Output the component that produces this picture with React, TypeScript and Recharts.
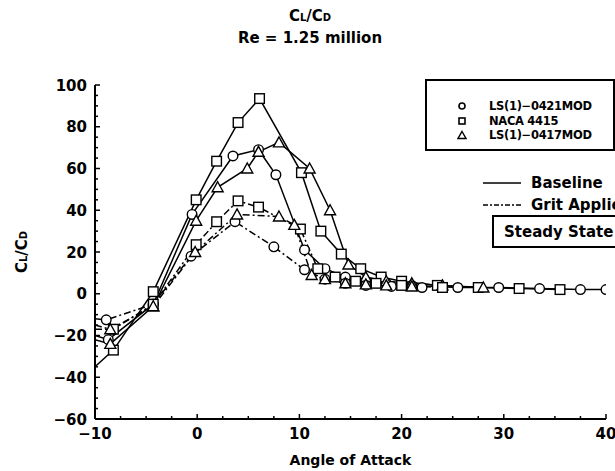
import { LineChart, Line, XAxis, YAxis, Label } from 'recharts'

// tick positions (majors carry labels)
const xTicks = [-10, -7.5, -5, -2.5, 0, 2.5, 5, 7.5, 10, 12.5, 15, 17.5, 20, 22.5, 25, 27.5, 30, 32.5, 35, 37.5, 40]
const xLabels = [-10, 0, 10, 20, 30, 40]
const yTicks = [
  -60, -55, -50, -45, -40, -35, -30, -25, -20, -15, -10, -5, 0, 5, 10, 15, 20, 25, 30, 35, 40, 45, 50, 55, 60,
  65, 70, 75, 80, 85, 90, 95, 100,
]
const yLabels = [-60, -40, -20, 0, 20, 40, 60, 80, 100]

// LS(1)-0421MOD, baseline
const ls0421BaseAoa = [-10, -8.7, -4.3, -0.5, 3.5, 6, 7.7, 10.5, 12.5, 14.5, 16.5, 18.5, 21, 25.5, 29.5, 33.5, 37.5, 40]
const ls0421BaseRatio = [-20, -22, -5, 38, 66, 69, 57, 21, 12, 8, 6, 5, 4, 3, 3, 2.5, 2, 2]

// NACA 4415, baseline
const naca4415BaseAoa = [-10, -8.2, -4.3, -0.1, 1.9, 4, 6.1, 10.2, 12.1, 14.1, 16, 18, 20, 23.5, 27.5, 31.5, 35.5]
const naca4415BaseRatio = [-35, -27, 1, 45, 63.5, 82, 93.5, 58, 30, 19, 12, 8, 6, 4, 3, 2.5, 2]

// LS(1)-0417MOD, baseline
const ls0417BaseAoa = [-10, -8.5, -4.3, -0.1, 2, 4.9, 6, 8, 11, 13, 14.8, 16.5, 18.5, 21, 24, 28]
const ls0417BaseRatio = [-22, -24, -6, 35, 51, 60, 68, 72.5, 60, 40, 14, 8, 6, 5, 4, 3]

// LS(1)-0421MOD, grit applied
const ls0421GritAoa = [-10, -8.9, -4.3, -0.6, 3.7, 7.5, 10.5, 12.5, 14.5, 16.5, 19, 22]
const ls0421GritRatio = [-12, -12.5, -5, 18, 34.5, 22.5, 11.5, 7, 5, 4, 3.5, 3]

// NACA 4415, grit applied
const naca4415GritAoa = [-10, -8.2, -4.3, -0.1, 1.9, 4, 6, 10.1, 11.8, 13.5, 15.5, 17.5, 20, 24]
const naca4415GritRatio = [-17, -17, -5, 23.5, 34.5, 44.5, 41.5, 31, 12, 8, 6, 5, 4, 3]

// LS(1)-0417MOD, grit applied
const ls0417GritAoa = [-10, -8.5, -4.3, -0.2, 3.9, 8, 9.5, 11.2, 12.5, 14.5, 16.5, 18.5, 21]
const ls0417GritRatio = [-15, -17, -6, 20, 38, 37, 33, 9, 7, 5, 4.5, 4, 3.5]

const toPoints = (aoa: number[], ratio: number[]) => aoa.map((a, i) => ({ a, v: ratio[i] }))

const FONT = '"DejaVu Sans", sans-serif'
const DASHDOT = '7 3 2 3'

// no marker where a line runs into the axis edge
const atEdge = (props: any) => props.payload && props.payload.a <= -10

const circleDot = (props: any) => {
  const { cx, cy, index } = props
  if (atEdge(props)) return <g key={index} />
  return <circle key={index} cx={cx} cy={cy} r={4.8} fill="#fff" stroke="#000" strokeWidth={1.4} />
}
const squareDot = (props: any) => {
  const { cx, cy, index } = props
  if (atEdge(props)) return <g key={index} />
  return <rect key={index} x={cx - 4.8} y={cy - 4.8} width={9.6} height={9.6} fill="#fff" stroke="#000" strokeWidth={1.4} />
}
const triangleDot = (props: any) => {
  const { cx, cy, index } = props
  if (atEdge(props)) return <g key={index} />
  return (
    <polygon
      key={index}
      points={`${cx},${cy - 5.5} ${cx + 5.5},${cy + 4.5} ${cx - 5.5},${cy + 4.5}`}
      fill="#fff"
      stroke="#000"
      strokeWidth={1.4}
    />
  )
}

const XTick = (props: any) => {
  const { x, y, payload } = props
  const major = xLabels.includes(payload.value)
  return (
    <g>
      <line x1={x} x2={x} y1={y} y2={y - (major ? 5 : 3)} stroke="#000" strokeWidth={1.5} />
      {major && (
        <text x={x} y={y + 20} textAnchor="middle" fontFamily={FONT} fontWeight="bold" fontSize={15} fill="#000">
          {payload.value < 0 ? '\u2212' + Math.abs(payload.value) : payload.value}
        </text>
      )}
    </g>
  )
}

const YTick = (props: any) => {
  const { x, y, payload } = props
  const major = yLabels.includes(payload.value)
  return (
    <g>
      <line x1={x} x2={x + (major ? 5 : 3)} y1={y} y2={y} stroke="#000" strokeWidth={1.5} />
      {major && (
        <text x={x - 8} y={y + 5.5} textAnchor="end" fontFamily={FONT} fontWeight="bold" fontSize={15} fill="#000">
          {payload.value < 0 ? '\u2212' + Math.abs(payload.value) : payload.value}
        </text>
      )}
    </g>
  )
}

const Sym = ({ kind }: { kind: string }) => (
  <svg width={10} height={10} style={{ display: 'block' }}>
    {kind === 'circle' && <circle cx={5} cy={5} r={3} fill="none" stroke="#000" strokeWidth={1.6} />}
    {kind === 'square' && <rect x={2} y={2} width={6} height={6} fill="none" stroke="#000" strokeWidth={1.6} />}
    {kind === 'triangle' && <polygon points="5,1.5 9,8.5 1,8.5" fill="none" stroke="#000" strokeWidth={1.4} />}
  </svg>
)

const airfoils = [
  { name: 'LS(1)\u22120421MOD', kind: 'circle' },
  { name: 'NACA 4415', kind: 'square' },
  { name: 'LS(1)\u22120417MOD', kind: 'triangle' },
]

const App = () => {
  return (
    <div style={{ position: 'absolute', left: 0, top: 0, width: 615, height: 471, overflow: 'hidden', background: '#fff', fontFamily: FONT }}>
      <div style={{ position: 'absolute', left: 210, width: 200, top: 6, textAlign: 'center', fontSize: 15, fontWeight: 'bold', lineHeight: '20px' }}>
        <div>
          C<span style={{ fontSize: 10 }}>L</span>/C<span style={{ fontSize: 10 }}>D</span>
        </div>
        <div>Re = 1.25 million</div>
      </div>

      <div
        style={{
          position: 'absolute',
          left: 22,
          top: 252,
          transform: 'translate(-50%, -50%) rotate(-90deg)',
          fontSize: 15,
          fontWeight: 'bold',
          whiteSpace: 'nowrap',
        }}
      >
        C<span style={{ fontSize: 10 }}>L</span>/C<span style={{ fontSize: 10 }}>D</span>
      </div>

      <LineChart width={615} height={471} margin={{ top: 85, right: 9, left: 35, bottom: 22 }}>
        <XAxis
          dataKey="a"
          type="number"
          domain={[-10, 40]}
          ticks={xTicks}
          interval={0}
          allowDataOverflow
          height={30}
          tickSize={0}
          tickMargin={0}
          tickLine={false}
          tick={<XTick />}
          axisLine={{ stroke: '#000', strokeWidth: 2 }}
        >
          <Label
            value="Angle of Attack"
            position="insideBottom"
            offset={-16}
            style={{ fontFamily: FONT, fontWeight: 'bold', fontSize: 14, fill: '#000' }}
          />
        </XAxis>
        <YAxis
          type="number"
          domain={[-60, 100]}
          ticks={yTicks}
          interval={0}
          allowDataOverflow
          width={60}
          tickSize={0}
          tickMargin={0}
          tickLine={false}
          tick={<YTick />}
          axisLine={{ stroke: '#000', strokeWidth: 2 }}
        />
        <Line data={toPoints(ls0421BaseAoa, ls0421BaseRatio)} dataKey="v" stroke="#000" strokeWidth={1.5} dot={circleDot} isAnimationActive={false} />
        <Line data={toPoints(naca4415BaseAoa, naca4415BaseRatio)} dataKey="v" stroke="#000" strokeWidth={1.5} dot={squareDot} isAnimationActive={false} />
        <Line data={toPoints(ls0417BaseAoa, ls0417BaseRatio)} dataKey="v" stroke="#000" strokeWidth={1.5} dot={triangleDot} isAnimationActive={false} />
        <Line data={toPoints(ls0421GritAoa, ls0421GritRatio)} dataKey="v" stroke="#000" strokeWidth={1.5} strokeDasharray={DASHDOT} dot={circleDot} isAnimationActive={false} />
        <Line data={toPoints(naca4415GritAoa, naca4415GritRatio)} dataKey="v" stroke="#000" strokeWidth={1.5} strokeDasharray={DASHDOT} dot={squareDot} isAnimationActive={false} />
        <Line data={toPoints(ls0417GritAoa, ls0417GritRatio)} dataKey="v" stroke="#000" strokeWidth={1.5} strokeDasharray={DASHDOT} dot={triangleDot} isAnimationActive={false} />
      </LineChart>

      <div style={{ position: 'absolute', left: 425, top: 79, width: 186, height: 68, border: '2px solid #000', background: '#fff' }}>
        {airfoils.map((f, i) => (
          <div key={f.name} style={{ position: 'absolute', left: 30, top: 18 + i * 14.5, height: 14, display: 'flex', alignItems: 'center' }}>
            <Sym kind={f.kind} />
            <span style={{ marginLeft: 22, fontSize: 11.5, fontWeight: 'bold', letterSpacing: -0.3, whiteSpace: 'nowrap' }}>{f.name}</span>
          </div>
        ))}
      </div>

      <div style={{ position: 'absolute', left: 483, top: 174, display: 'flex', alignItems: 'center', whiteSpace: 'nowrap' }}>
        <svg width={38} height={4}>
          <line x1={0} x2={38} y1={2} y2={2} stroke="#000" strokeWidth={1.5} />
        </svg>
        <span style={{ marginLeft: 10, fontSize: 15, fontWeight: 'bold' }}>Baseline</span>
      </div>
      <div style={{ position: 'absolute', left: 483, top: 196, display: 'flex', alignItems: 'center', whiteSpace: 'nowrap' }}>
        <svg width={38} height={4}>
          <line x1={0} x2={38} y1={2} y2={2} stroke="#000" strokeWidth={1.5} strokeDasharray="5 2 2 2" />
        </svg>
        <span style={{ marginLeft: 10, fontSize: 15, fontWeight: 'bold' }}>Grit Applied</span>
      </div>
      <div
        style={{
          position: 'absolute',
          left: 492,
          top: 215,
          width: 120,
          height: 29,
          border: '2px solid #000',
          display: 'flex',
          alignItems: 'center',
          paddingLeft: 10,
          fontSize: 15,
          fontWeight: 'bold',
          whiteSpace: 'nowrap',
        }}
      >
        Steady State
      </div>
    </div>
  )
}

export default App
